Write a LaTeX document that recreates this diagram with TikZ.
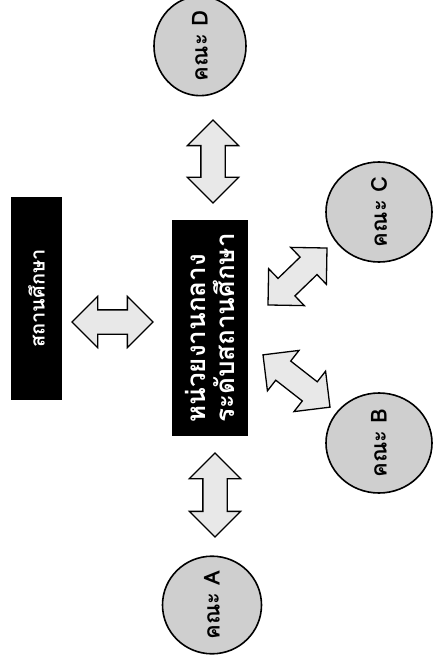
\documentclass[tikz,border=0pt]{standalone}
\usepackage{fontspec}
\newfontfamily\thaifont[Script=Thai]{Loma}
\usetikzlibrary{shapes.arrows, shapes.geometric}
\definecolor{cink}{HTML}{000000}
\definecolor{cspeck}{HTML}{CFCFCF}
\definecolor{cpale}{HTML}{E8E8E8}
\tikzset{
  every picture/.style={x=1pt, y=-1pt, line width=1.6pt},
  block/.style={fill=cink, text=white, font=\thaifont\bfseries, rotate=90, align=left, inner sep=0pt},
  faculty/.style={ellipse, draw=cink, fill=cspeck, rotate=90, inner sep=0pt, font=\thaifont\bfseries\fontsize{22}{26}\selectfont},
  link/.style={double arrow, draw=cink, fill=cpale, line width=1.3pt, inner xsep=0pt, inner ysep=11.5pt,
    double arrow head extend=13.5pt, minimum height=#1},
  link/.default=83pt,
}
\begin{document}
\begin{tikzpicture}
  \useasboundingbox (0,0) rectangle (434,668);
  % the school and the central unit
  \node[block, minimum width=203pt, minimum height=51pt, font=\thaifont\bfseries\fontsize{20}{24}\selectfont] (school) at (36.5,298.5) {สถานศึกษา};
  \node[block, minimum width=216pt, minimum height=76pt, font=\thaifont\bfseries\fontsize{26}{29}\selectfont] (hub) at (210,328) {หน่วยงานกลาง\\ระดับสถานศึกษา};
  % the four faculties
  \node[faculty, minimum width=96pt, minimum height=99pt] (facA) at (212,605) {คณะ A};
  \node[faculty, minimum width=100pt, minimum height=106pt] (facB) at (379,443) {คณะ B};
  \node[faculty, minimum width=100pt, minimum height=106pt] (facC) at (379,212) {คณะ C};
  \node[faculty, minimum width=94pt, minimum height=92pt] (facD) at (200,46) {คณะ D};
  % block arrows between them
  \node[link=81pt] (arrS) at (112.5,322) {};
  \node[link=84pt, rotate=90] (arrA) at (215,495) {};
  \node[link=85pt, rotate=-38] (arrB) at (296.5,381) {};
  \node[link=82pt, rotate=44] (arrC) at (297.5,276.5) {};
  \node[link=83pt, rotate=90] (arrD) at (213,161.5) {};
\end{tikzpicture}
\end{document}
